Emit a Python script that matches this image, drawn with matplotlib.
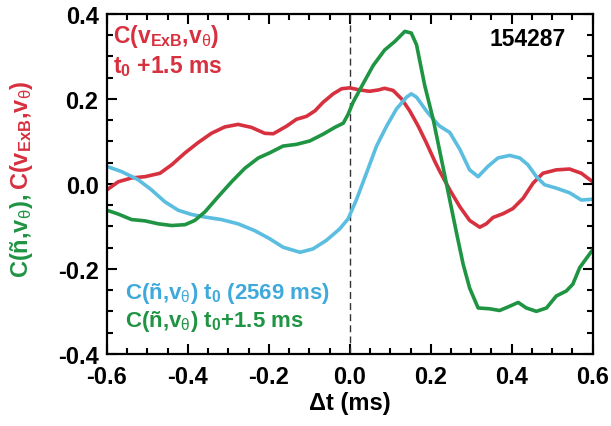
import numpy as np
import matplotlib
matplotlib.use('Agg')
import matplotlib.pyplot as plt
from matplotlib import font_manager

# pick a condensed bold sans if present
try:
    font_manager.findfont('Liberation Sans Narrow', fallback_to_default=False)
    fam = 'Liberation Sans Narrow'
except ValueError:
    fam = 'Liberation Sans'

plt.rcParams['font.family'] = [fam, 'DejaVu Sans']
plt.rcParams['font.weight'] = 'bold'
plt.rcParams['mathtext.fontset'] = 'custom'
plt.rcParams['mathtext.rm'] = fam + ':bold'
plt.rcParams['mathtext.bf'] = fam + ':bold'
plt.rcParams['mathtext.it'] = fam + ':weight=normal'
plt.rcParams['mathtext.default'] = 'rm'

# C(v_ExB, v_theta) at t0 + 1.5 ms
red_x = [-0.6, -0.572, -0.539, -0.506, -0.469, -0.44, -0.407, -0.375, -0.342, -0.309,
         -0.276, -0.243, -0.21, -0.189, -0.156, -0.132, -0.107, -0.086, -0.066, -0.041,
         -0.02, 0.0, 0.025, 0.049, 0.07, 0.086, 0.107, 0.128, 0.148, 0.169,
         0.189, 0.21, 0.222, 0.247, 0.272, 0.296, 0.321, 0.337, 0.354, 0.379,
         0.403, 0.428, 0.453, 0.477, 0.51, 0.543, 0.572, 0.6]
red_y = [-0.014, 0.005, 0.014, 0.017, 0.025, 0.045, 0.073, 0.097, 0.119, 0.134,
         0.140, 0.133, 0.119, 0.118, 0.136, 0.152, 0.159, 0.172, 0.192, 0.212,
         0.224, 0.226, 0.221, 0.218, 0.221, 0.225, 0.220, 0.200, 0.172, 0.136,
         0.097, 0.053, 0.030, -0.014, -0.054, -0.086, -0.102, -0.094, -0.079, -0.070,
         -0.058, -0.034, 0.002, 0.025, 0.033, 0.035, 0.025, 0.005]

# C(n, v_theta) at t0 (2569 ms)
blue_x = [-0.6, -0.564, -0.523, -0.49, -0.457, -0.424, -0.391, -0.358, -0.317, -0.276,
          -0.235, -0.198, -0.165, -0.123, -0.091, -0.058, -0.025, -0.004, 0.016, 0.041,
          0.066, 0.091, 0.115, 0.14, 0.152, 0.165, 0.189, 0.21, 0.222, 0.247,
          0.272, 0.296, 0.317, 0.341, 0.366, 0.395, 0.42, 0.44, 0.461, 0.481,
          0.51, 0.543, 0.572, 0.6]
blue_y = [0.041, 0.029, 0.010, -0.014, -0.042, -0.062, -0.072, -0.078, -0.084, -0.094,
          -0.110, -0.129, -0.149, -0.161, -0.153, -0.133, -0.106, -0.082, -0.038, 0.025,
          0.089, 0.136, 0.176, 0.204, 0.212, 0.204, 0.172, 0.148, 0.136, 0.121,
          0.081, 0.033, 0.017, 0.041, 0.061, 0.067, 0.061, 0.045, 0.017, -0.002,
          -0.010, -0.021, -0.038, -0.036]

# C(n, v_theta) at t0 + 1.5 ms
green_x = [-0.6, -0.572, -0.539, -0.506, -0.473, -0.44, -0.407, -0.383, -0.358, -0.325,
           -0.292, -0.259, -0.226, -0.198, -0.165, -0.132, -0.099, -0.066, -0.037, -0.016,
           -0.004, 0.008, 0.033, 0.058, 0.086, 0.111, 0.136, 0.152, 0.165, 0.185,
           0.206, 0.23, 0.247, 0.264, 0.28, 0.296, 0.317, 0.346, 0.37, 0.395,
           0.416, 0.436, 0.461, 0.486, 0.51, 0.535, 0.551, 0.568, 0.6]
green_y = [-0.062, -0.071, -0.084, -0.087, -0.094, -0.098, -0.096, -0.086, -0.066, -0.030,
           0.005, 0.037, 0.061, 0.073, 0.089, 0.093, 0.101, 0.117, 0.133, 0.143,
           0.164, 0.192, 0.236, 0.279, 0.315, 0.335, 0.359, 0.355, 0.327, 0.232,
           0.152, 0.041, -0.038, -0.117, -0.189, -0.245, -0.292, -0.294, -0.298, -0.288,
           -0.279, -0.292, -0.300, -0.292, -0.264, -0.252, -0.236, -0.197, -0.155]

red = '#d7303f'
blue = '#5bbde0'
green = '#1f9443'
blue_txt = '#3fa9dc'

fig = plt.figure(figsize=(6.11, 4.27), dpi=100)
ax = fig.add_axes([0.175, 0.169, 0.795, 0.796])

ax.axvline(0.0, color='#333333', lw=1.0, ls=(0, (5, 3)))
ax.plot(red_x, red_y, color=red, lw=2.6)
ax.plot(blue_x, blue_y, color=blue, lw=2.6)
ax.plot(green_x, green_y, color=green, lw=2.6)

ax.set_xlim(-0.6, 0.6)
ax.set_ylim(-0.4, 0.4)
ax.set_xticks(np.arange(-0.6, 0.61, 0.2))
ax.set_yticks(np.arange(-0.4, 0.41, 0.2))
ax.set_xticks(np.arange(-0.6, 0.61, 0.05), minor=True)
ax.set_yticks(np.arange(-0.4, 0.41, 0.05), minor=True)
ax.xaxis.set_major_formatter(matplotlib.ticker.FormatStrFormatter('%.1f'))
ax.yaxis.set_major_formatter(matplotlib.ticker.FormatStrFormatter('%.1f'))
ax.tick_params(which='both', direction='in', top=True, right=True, width=1.5)
ax.tick_params(which='major', length=7, labelsize=17)
ax.tick_params(axis='x', which='major', pad=8)
ax.tick_params(axis='y', which='major', pad=6)
ax.tick_params(which='minor', length=4)
for sp in ax.spines.values():
    sp.set_linewidth(1.6)

ax.set_xlabel('\u0394t (ms)', fontsize=17, fontweight='bold', labelpad=2)

ax.text(0.012, 0.975, r'C(v$_{\mathrm{ExB}}$,v$_{\mathit{\theta}}$)', transform=ax.transAxes,
        color=red, fontsize=16.5, va='top', ha='left')
ax.text(0.012, 0.885, r't$_0$ +1.5 ms', transform=ax.transAxes,
        color=red, fontsize=16.5, va='top', ha='left')
ax.text(0.945, 0.962, '154287', transform=ax.transAxes,
        color='black', fontsize=16.5, va='top', ha='right')
ax.text(0.037, 0.165, r'C(ñ,v$_{\mathit{\theta}}$) t$_0$ (2569 ms)', transform=ax.transAxes,
        color=blue_txt, fontsize=16, va='baseline', ha='left')
ax.text(0.037, 0.082, r'C(ñ,v$_{\mathit{\theta}}$) t$_0$+1.5 ms', transform=ax.transAxes,
        color=green, fontsize=16, va='baseline', ha='left')

# two-coloured y label, green part then red part stacked upward
fig.canvas.draw()
r = fig.canvas.get_renderer()
H = fig.bbox.height
xl = 0.046
t1 = fig.text(xl, 149 / H, r'C(ñ,v$_{\mathit{\theta}}$), ', rotation=90,
              rotation_mode='anchor', ha='left', va='baseline', color=green, fontsize=17)
bb = t1.get_window_extent(r)
fig.text(xl, (bb.y1 + 2) / H, r'C(v$_{\mathrm{ExB}}$,v$_{\mathit{\theta}}$)', rotation=90,
         rotation_mode='anchor', ha='left', va='baseline', color=red, fontsize=17)

fig.savefig('out.png', dpi=100)
